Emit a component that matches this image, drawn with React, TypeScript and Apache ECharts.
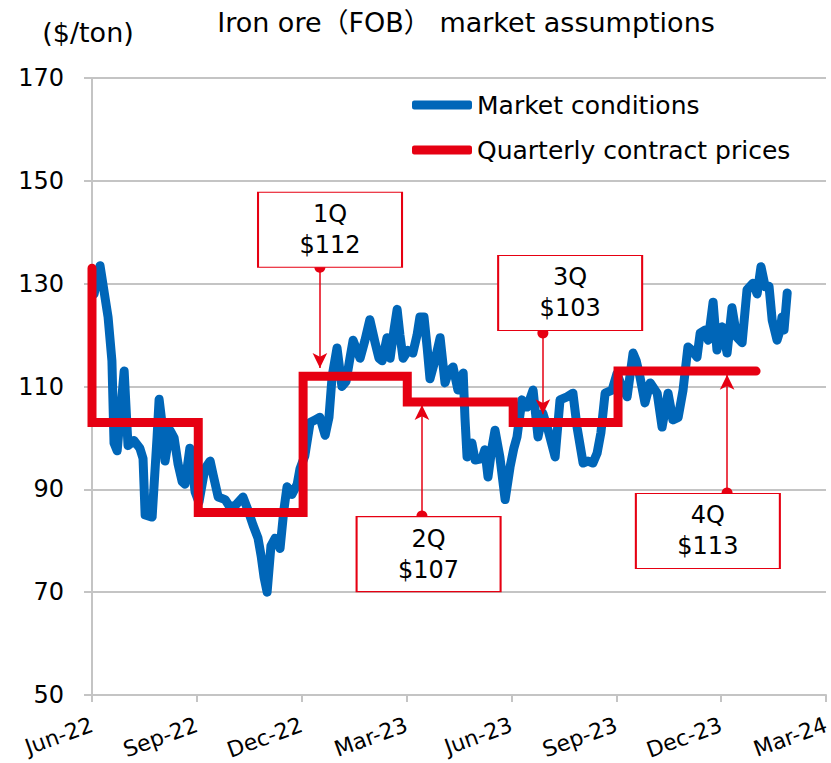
import React, { useEffect, useRef } from "react";
import * as echarts from "echarts";

// x values are months elapsed since Jun-22 (0 = Jun-22, 21 = Mar-24)
const tickLabels = ["Jun-22", "Sep-22", "Dec-22", "Mar-23", "Jun-23", "Sep-23", "Dec-23", "Mar-24"];

const marketMonth = [
  0.06, 0.23, 0.46, 0.57, 0.63, 0.72, 0.92, 1.03, 1.2, 1.37, 1.46, 1.52, 1.72, 1.86, 1.92, 2.0, 2.09, 2.23, 2.35, 2.46,
  2.58, 2.66, 2.8, 2.95, 3.06, 3.23, 3.38, 3.46, 3.61, 3.81, 3.95, 4.12, 4.32, 4.46, 4.61, 4.75, 4.84, 4.92, 5.01, 5.12,
  5.24, 5.38, 5.49, 5.58, 5.72, 5.87, 5.95, 6.09, 6.24, 6.38, 6.52, 6.67, 6.78, 6.87, 7.01, 7.15, 7.27, 7.38, 7.47, 7.58,
  7.67, 7.81, 7.95, 8.1, 8.21, 8.3, 8.44, 8.53, 8.64, 8.73, 8.81, 8.9, 9.04, 9.18, 9.3, 9.38, 9.5, 9.59, 9.67, 9.81,
  9.96, 10.1, 10.21, 10.33, 10.47, 10.62, 10.67, 10.73, 10.87, 10.96, 11.16, 11.24, 11.33, 11.44, 11.53, 11.67, 11.82, 11.96, 12.07, 12.16,
  12.3, 12.45, 12.62, 12.76, 12.9, 13.05, 13.25, 13.39, 13.59, 13.76, 13.88, 14.05, 14.19, 14.33, 14.45, 14.56, 14.68, 14.88, 15.02, 15.16,
  15.31, 15.48, 15.57, 15.68, 15.82, 15.97, 16.17, 16.31, 16.48, 16.62, 16.77, 16.91, 17.05, 17.17, 17.31, 17.4, 17.54, 17.63, 17.77, 17.88,
  18.03, 18.17, 18.31, 18.45, 18.6, 18.74, 18.91, 19.03, 19.14, 19.26, 19.37, 19.46, 19.6, 19.69, 19.74, 19.8, 19.89,
];

const marketPrice = [
  128, 133.5, 123.5, 115, 99, 97.5, 113, 98.5, 99.5, 98, 96, 85, 84.6, 100, 107.5, 103, 95.5, 101.5, 100, 95,
  91.5, 91, 98, 89.5, 87.5, 94, 95.5, 93, 88.5, 88, 86.5, 87, 88.5, 86, 83, 80.5, 77, 73, 70, 79,
  80.5, 78.5, 86, 90.5, 89, 91, 94, 96.5, 103, 103.5, 104, 100.5, 104, 112, 117.5, 110, 111, 115.5, 119, 117,
  115.5, 119, 123, 118.5, 115.5, 115, 119.5, 115.5, 121, 125, 120, 115.5, 117, 116.5, 120, 123.5, 123.5, 117.5, 111.5, 115,
  119.5, 110.7, 113, 113.8, 109.3, 112.6, 104, 96.3, 99, 95.7, 96, 97.7, 92.4, 98, 101.5, 96.3, 88, 94.3, 98, 100.2,
  107.4, 106, 109.3, 100.2, 104.8, 101.5, 96.3, 107.4, 108, 108.7, 102, 95.1, 95.5, 95.1, 97, 101, 108.7, 109.3, 112.5, 110,
  108, 116.5, 115, 111.8, 106.8, 110.7, 108.7, 102.1, 108.7, 103.5, 104, 109.3, 117.7, 117, 115.7, 120.4, 121, 119, 126.4, 117.1,
  121.6, 116.5, 125.3, 119.6, 118.5, 128.8, 130.1, 128, 133.3, 129.4, 129.5, 122.9, 119, 121, 123.5, 121, 128.2,
];

// Quarterly contract price step line (step at the start month of each period)
const contractMonth = [0, 0, 3.04, 6.04, 9.02, 12.05, 15.05, 19.0];
const contractPrice = [133, 103, 85.5, 112, 107, 103, 113, 113];

// Annotated quarters
const quarterLabels = ["1Q", "2Q", "3Q", "4Q"];
const quarterPrices = [112, 107, 103, 113];

// Annotation layout (data-space anchors for boxes and arrows)
const boxCenterMonth = [6.81, 9.63, 13.68, 17.62];
const boxCenterValue = [140.5, 77.4, 128.2, 81.9];
const arrowMonth = [6.52, 9.44, 12.9, 18.17];
const arrowFrom = [133.2, 84.8, 120.4, 89.3];
const arrowTo = [113.6, 106.4, 104.6, 112.3];

const BLUE = "#0066b8";
const RED = "#e60012";
const GRID_GRAY = "#c4c4c4";
const FONT = "'DejaVu Sans', Verdana, 'Noto Sans CJK JP', sans-serif";

export default function App() {
  const ref = useRef<HTMLDivElement>(null);

  useEffect(() => {
    document.body.style.margin = "0";
    if (!ref.current) return;
    const chart = echarts.init(ref.current, null, { renderer: "svg" });

    const option: any = {
      animation: false,
      textStyle: { fontFamily: FONT },
      grid: { left: 92, right: 5, top: 78, bottom: 68, outerBoundsMode: "none", containLabel: false },
      graphic: [
        {
          type: "text",
          x: 466,
          y: 22,
          style: {
            text: "Iron ore（FOB） market assumptions",
            fontSize: 27,
            fontFamily: FONT,
            fill: "#000",
            align: "center",
            verticalAlign: "middle",
          },
        },
        {
          type: "text",
          x: 88,
          y: 32,
          style: {
            text: "($/ton)",
            fontSize: 27,
            fontFamily: FONT,
            fill: "#000",
            align: "center",
            verticalAlign: "middle",
          },
        },
      ],
      legend: {
        orient: "vertical",
        left: 407,
        top: 86,
        itemWidth: 60,
        itemHeight: 9,
        itemGap: 17,
        icon: "roundRect",
        textStyle: { fontSize: 25, color: "#000", lineHeight: 28, fontFamily: FONT },
        data: ["Market conditions", "Quarterly contract prices"],
      },
      xAxis: {
        type: "value",
        min: 0,
        max: 21,
        interval: 3,
        axisLine: { show: true, onZero: false, lineStyle: { color: GRID_GRAY, width: 2 } },
        axisTick: { show: true, length: 7, lineStyle: { color: GRID_GRAY, width: 2 } },
        splitLine: { show: false },
        axisLabel: {
          rotate: 20,
          margin: 29,
          fontSize: 22,
          color: "#000",
          fontFamily: FONT,
          formatter: (v: number) => tickLabels[Math.round(v / 3)] ?? "",
        },
      },
      yAxis: {
        type: "value",
        min: 50,
        max: 170,
        interval: 20,
        axisLine: { show: true, onZero: false, lineStyle: { color: GRID_GRAY, width: 2 } },
        axisTick: { show: true, length: 8, lineStyle: { color: GRID_GRAY, width: 2 } },
        splitLine: { show: true, lineStyle: { color: GRID_GRAY, width: 2 } },
        axisLabel: { fontSize: 24, margin: 28, color: "#000", fontFamily: FONT },
      },
      series: [
        {
          name: "Market conditions",
          type: "line",
          data: marketMonth.map((m, i) => [m, marketPrice[i]]),
          symbol: "none",
          showSymbol: false,
          lineStyle: { color: BLUE, width: 9, cap: "round", join: "round" },
          itemStyle: { color: BLUE },
          z: 2,
        },
        {
          name: "Quarterly contract prices",
          type: "line",
          step: "end",
          data: contractMonth.map((m, i) => [m, contractPrice[i]]),
          symbol: "none",
          showSymbol: false,
          lineStyle: { color: RED, width: 9, cap: "round", join: "miter" },
          itemStyle: { color: RED },
          z: 3,
        },
        {
          name: "annotations",
          type: "line",
          data: [],
          z: 4,
          markPoint: {
            silent: true,
            symbol: "rect",
            symbolSize: [144, 75],
            itemStyle: { color: "#fff", borderColor: RED, borderWidth: 1.5 },
            label: {
              show: true,
              position: "inside",
              color: "#000",
              fontSize: 24,
              lineHeight: 31,
              fontFamily: FONT,
              formatter: (p: any) => p.name,
            },
            data: quarterLabels.map((q, i) => ({
              name: `${q}\n$${quarterPrices[i]}`,
              coord: [boxCenterMonth[i], boxCenterValue[i]],
            })),
          },
          markLine: {
            silent: true,
            symbol: ["circle", "arrow"],
            symbolSize: [11, 15],
            label: { show: false },
            lineStyle: { color: RED, width: 1.5, type: "solid" },
            data: arrowMonth.map((m, i) => [
              { coord: [m, arrowFrom[i]] },
              { coord: [m, arrowTo[i]] },
            ]),
          },
        },
      ],
    };

    chart.setOption(option);
    return () => chart.dispose();
  }, []);

  return <div ref={ref} style={{ width: 831, height: 763 }} />;
}
